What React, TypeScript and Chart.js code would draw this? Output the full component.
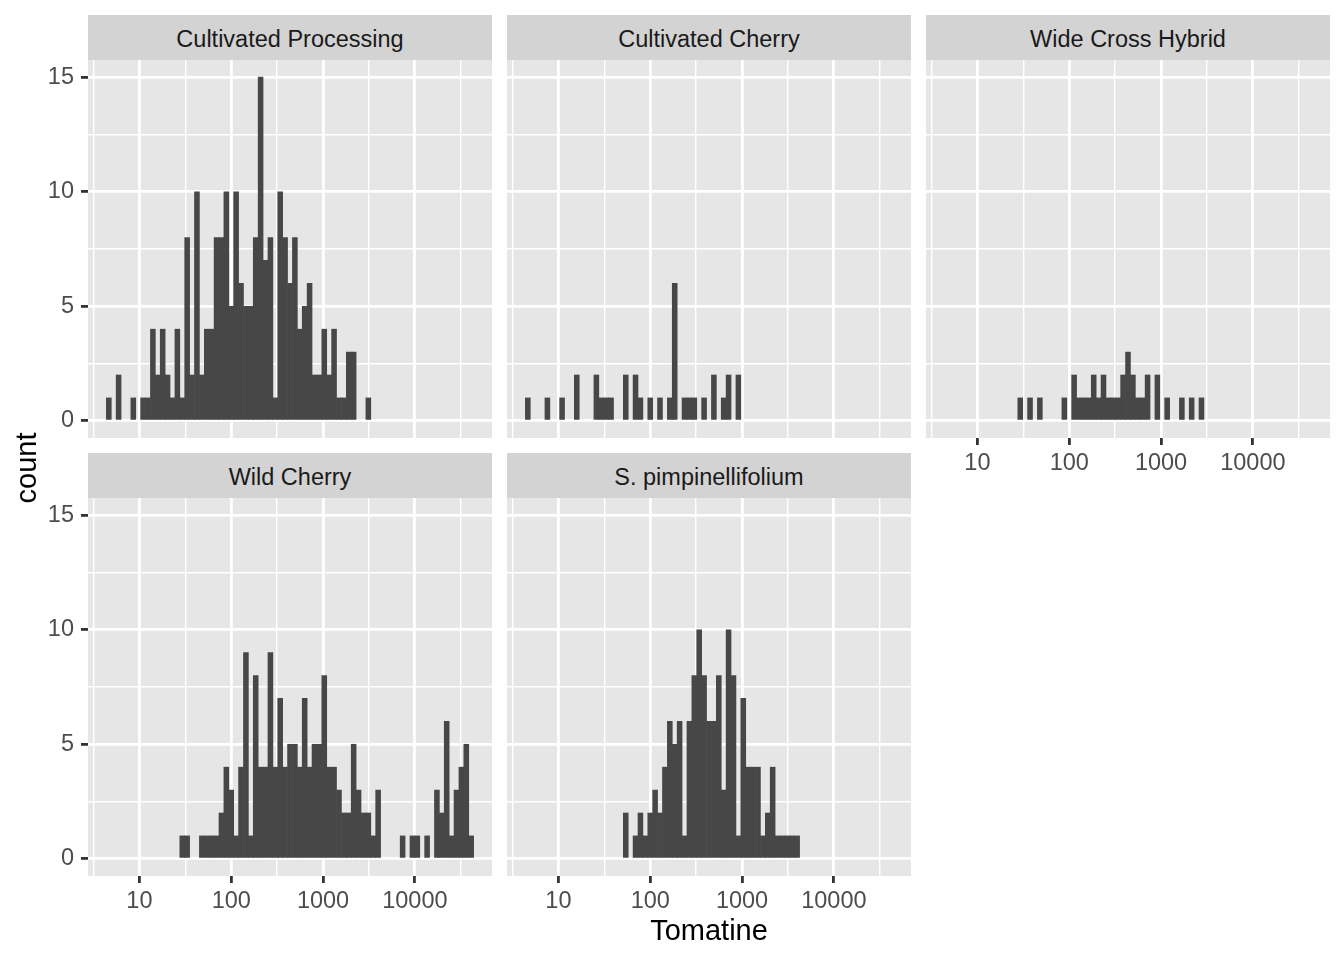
import React, { useEffect, useRef } from 'react';
import { Chart, registerables } from 'chart.js';

Chart.register(...registerables);

// ---------------- data ----------------
const PANEL_NAMES = [
  'Cultivated Processing',
  'Cultivated Cherry',
  'Wide Cross Hybrid',
  'Wild Cherry',
  'S. pimpinellifolium',
];

// histogram bins in log10(Tomatine) space
const BIN_START_LOG10 = 0.64;
const BIN_WIDTH_LOG10 = 4.0 / 75;

// counts per bin (75 bins)
const cultivatedProcessing = [
  1, 0, 2, 0, 0, 1, 0, 1, 1, 4, 2, 4, 2, 1, 4, 1, 8, 2, 10, 2, 4, 4, 8, 8, 10,
  5, 10, 6, 5, 5, 8, 15, 7, 8, 1, 10, 8, 6, 8, 4, 5, 6, 2, 2, 4, 2, 4, 1, 1, 3,
  3, 0, 0, 1, 0, 0, 0, 0, 0, 0, 0, 0, 0, 0, 0, 0, 0, 0, 0, 0, 0, 0, 0, 0, 0,
];
const cultivatedCherry = [
  1, 0, 0, 0, 1, 0, 0, 1, 0, 0, 2, 0, 0, 0, 2, 1, 1, 1, 0, 0, 2, 0, 2, 1, 0,
  1, 0, 1, 0, 1, 6, 0, 1, 1, 1, 0, 1, 0, 2, 0, 1, 2, 0, 2, 0, 0, 0, 0, 0, 0,
  0, 0, 0, 0, 0, 0, 0, 0, 0, 0, 0, 0, 0, 0, 0, 0, 0, 0, 0, 0, 0, 0, 0, 0, 0,
];
const wideCrossHybrid = [
  0, 0, 0, 0, 0, 0, 0, 0, 0, 0, 0, 0, 0, 0, 0, 1, 0, 1, 0, 1, 0, 0, 0, 0, 1,
  0, 2, 1, 1, 1, 2, 1, 2, 1, 1, 1, 2, 3, 2, 1, 1, 2, 0, 2, 0, 1, 0, 0, 1, 0,
  1, 0, 1, 0, 0, 0, 0, 0, 0, 0, 0, 0, 0, 0, 0, 0, 0, 0, 0, 0, 0, 0, 0, 0, 0,
];
const wildCherry = [
  0, 0, 0, 0, 0, 0, 0, 0, 0, 0, 0, 0, 0, 0, 0, 1, 1, 0, 0, 1, 1, 1, 1, 2, 4,
  3, 1, 4, 9, 1, 8, 4, 4, 9, 4, 7, 4, 5, 5, 4, 7, 4, 5, 5, 8, 4, 4, 3, 2, 2,
  5, 3, 2, 2, 1, 3, 0, 0, 0, 0, 1, 0, 1, 1, 0, 1, 0, 3, 2, 6, 1, 3, 4, 5, 1,
];
const sPimpinellifolium = [
  0, 0, 0, 0, 0, 0, 0, 0, 0, 0, 0, 0, 0, 0, 0, 0, 0, 0, 0, 0, 2, 0, 1, 2, 1,
  2, 3, 2, 4, 6, 5, 6, 1, 6, 8, 10, 8, 6, 6, 8, 3, 10, 8, 1, 7, 4, 4, 4, 1, 2,
  4, 1, 1, 1, 1, 1, 0, 0, 0, 0, 0, 0, 0, 0, 0, 0, 0, 0, 0, 0, 0, 0, 0, 0, 0,
];

const PANEL_COUNTS = [
  cultivatedProcessing,
  cultivatedCherry,
  wideCrossHybrid,
  wildCherry,
  sPimpinellifolium,
];

const X_MAJOR_TICKS = [1, 2, 3, 4];
const X_MINOR_TICKS = [0.5, 1.5, 2.5, 3.5, 4.5];
const X_TICK_LABELS = ['10', '100', '1000', '10000'];
const Y_MAJOR_TICKS = [0, 5, 10, 15];
const Y_MINOR_TICKS = [2.5, 7.5, 12.5];
const Y_TICK_LABELS = ['0', '5', '10', '15'];

const X_MIN = 0.44;
const X_MAX = 4.84;
const Y_MIN = -0.75;
const Y_MAX = 15.75;

// ---------------- layout ----------------
const FONT = "'Liberation Sans', Arial, Helvetica, sans-serif";
const PANEL_W = 404;
const PLOT_H = 378;
const STRIP_H = 45;
const Y_AXIS_W = 88;
const X_AXIS_H = 42;
const PANEL_BG = '#E6E6E6';
const STRIP_BG = '#D3D3D3';

type PanelSpec = {
  idx: number;
  left: number;
  top: number;
  showX: boolean;
  showY: boolean;
};

const PANELS: PanelSpec[] = [
  { idx: 0, left: 88, top: 60, showX: false, showY: true },
  { idx: 1, left: 507, top: 60, showX: false, showY: false },
  { idx: 2, left: 926, top: 60, showX: true, showY: false },
  { idx: 3, left: 88, top: 498, showX: true, showY: true },
  { idx: 4, left: 507, top: 498, showX: true, showY: false },
];

const panelBg = {
  id: 'panelBg',
  beforeDraw(chart: any) {
    const { ctx, chartArea } = chart;
    ctx.save();
    ctx.fillStyle = PANEL_BG;
    ctx.fillRect(chartArea.left, chartArea.top, chartArea.width, chartArea.height);
    ctx.restore();
  },
};

const zeroPadding = (s: any) => {
  s.paddingTop = 0;
  s.paddingBottom = 0;
  s.paddingLeft = 0;
  s.paddingRight = 0;
};

function Panel({ spec }: { spec: PanelSpec }) {
  const ref = useRef<HTMLCanvasElement | null>(null);
  const cw = PANEL_W + (spec.showY ? Y_AXIS_W : 0);
  const ch = PLOT_H + (spec.showX ? X_AXIS_H : 0);
  const cl = spec.left - (spec.showY ? Y_AXIS_W : 0);

  useEffect(() => {
    if (!ref.current) return;
    const counts = PANEL_COUNTS[spec.idx];
    const data = counts.map((c, k) => ({
      x: BIN_START_LOG10 + (k + 0.5) * BIN_WIDTH_LOG10,
      y: c,
    }));
    const xMajor = (v: number) => X_MAJOR_TICKS.indexOf(v) >= 0;
    const yMajor = (v: number) => Y_MAJOR_TICKS.indexOf(v) >= 0;
    const chart = new Chart(ref.current, {
      type: 'bar',
      data: {
        datasets: [
          {
            data,
            backgroundColor: (c: any) =>
              c.raw && c.raw.y > 0 ? '#474747' : 'rgba(0,0,0,0)',
            borderWidth: 0,
            barPercentage: 1,
            categoryPercentage: 1,
          } as any,
        ],
      },
      options: {
        animation: false,
        responsive: false,
        events: [],
        layout: { padding: 0 },
        plugins: { legend: { display: false }, tooltip: { enabled: false } },
        scales: {
          x: {
            type: 'linear',
            min: X_MIN,
            max: X_MAX,
            offset: false,
            afterBuildTicks: (s: any) => {
              s.ticks = [...X_MINOR_TICKS, ...X_MAJOR_TICKS]
                .sort((a, b) => a - b)
                .map((v) => ({ value: v }));
            },
            afterFit: (s: any) => {
              s.height = spec.showX ? X_AXIS_H : 0;
              zeroPadding(s);
            },
            grid: {
              offset: false,
              color: '#FFFFFF',
              lineWidth: (c: any) => (c.tick && xMajor(c.tick.value) ? 2.8 : 1.4),
              drawTicks: spec.showX,
              tickLength: 7,
              tickWidth: 2.8,
              tickColor: (c: any) =>
                c.tick && xMajor(c.tick.value) ? '#333333' : 'rgba(0,0,0,0)',
            },
            border: { display: false },
            ticks: {
              display: spec.showX,
              autoSkip: false,
              maxRotation: 0,
              padding: 4,
              color: '#4D4D4D',
              font: { family: FONT, size: 23.5 },
              callback: (v: any) => {
                const i = X_MAJOR_TICKS.indexOf(Number(v));
                return i >= 0 ? X_TICK_LABELS[i] : '';
              },
            },
          } as any,
          y: {
            type: 'linear',
            min: Y_MIN,
            max: Y_MAX,
            afterBuildTicks: (s: any) => {
              s.ticks = [...Y_MINOR_TICKS, ...Y_MAJOR_TICKS]
                .sort((a, b) => a - b)
                .map((v) => ({ value: v }));
            },
            afterFit: (s: any) => {
              s.width = spec.showY ? Y_AXIS_W : 0;
              zeroPadding(s);
            },
            grid: {
              color: '#FFFFFF',
              lineWidth: (c: any) => (c.tick && yMajor(c.tick.value) ? 2.8 : 1.4),
              drawTicks: spec.showY,
              tickLength: 7,
              tickWidth: 2.8,
              tickColor: (c: any) =>
                c.tick && yMajor(c.tick.value) ? '#333333' : 'rgba(0,0,0,0)',
            },
            border: { display: false },
            ticks: {
              display: spec.showY,
              autoSkip: false,
              padding: 7,
              color: '#4D4D4D',
              font: { family: FONT, size: 23.5 },
              callback: (v: any) => {
                const i = Y_MAJOR_TICKS.indexOf(Number(v));
                return i >= 0 ? Y_TICK_LABELS[i] : '';
              },
            },
          } as any,
        },
      },
      plugins: [panelBg],
    });
    return () => chart.destroy();
  }, [spec]);

  return (
    <>
      <div
        style={{
          position: 'absolute',
          left: spec.left,
          top: spec.top - STRIP_H,
          width: PANEL_W,
          height: STRIP_H,
          background: STRIP_BG,
          display: 'flex',
          alignItems: 'center',
          justifyContent: 'center',
          fontFamily: FONT,
          fontSize: 23.5,
          color: '#1A1A1A',
          paddingTop: 3,
          boxSizing: 'border-box',
        }}
      >
        {PANEL_NAMES[spec.idx]}
      </div>
      <canvas
        ref={ref}
        width={cw}
        height={ch}
        style={{ position: 'absolute', left: cl, top: spec.top, width: cw, height: ch }}
      />
    </>
  );
}

export default function App() {
  return (
    <div
      style={{
        position: 'absolute',
        left: 0,
        top: 0,
        width: 1344,
        height: 960,
        background: '#FFFFFF',
        overflow: 'hidden',
      }}
    >
      {PANELS.map((p) => (
        <Panel key={p.idx} spec={p} />
      ))}
      <div
        style={{
          position: 'absolute',
          left: 26 - 60,
          top: 468 - 18,
          width: 120,
          height: 36,
          lineHeight: '36px',
          textAlign: 'center',
          transform: 'rotate(-90deg)',
          fontFamily: FONT,
          fontSize: 29,
          color: '#000000',
        }}
      >
        count
      </div>
      <div
        style={{
          position: 'absolute',
          left: 709 - 150,
          top: 930 - 18,
          width: 300,
          height: 36,
          lineHeight: '36px',
          textAlign: 'center',
          fontFamily: FONT,
          fontSize: 29,
          color: '#000000',
        }}
      >
        Tomatine
      </div>
    </div>
  );
}
